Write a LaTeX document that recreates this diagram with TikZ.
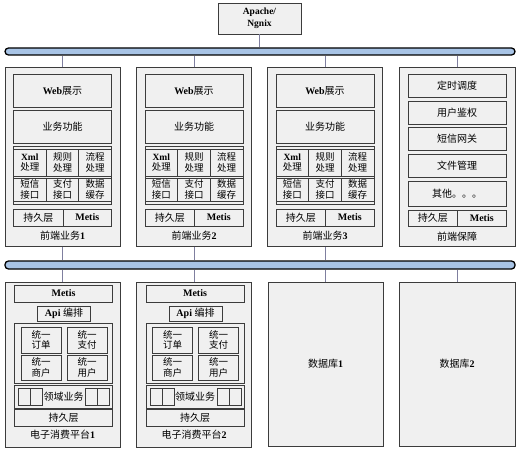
\documentclass[tikz,border=0pt]{standalone}
\usepackage{fontspec}
\setmainfont{Liberation Serif}
\newfontfamily\cjk{Noto Sans CJK SC}
\definecolor{boxline}{HTML}{3C3C3C}
\definecolor{boxfill}{HTML}{F0F0F0}
\definecolor{connc}{HTML}{7F7F9F}
\definecolor{busfill}{HTML}{A8C4E6}
\newcommand\zh[1]{{\cjk #1}}
\newcommand\lb[1]{{\bfseries #1}}
% \R[style]{x1}{y1}{x2}{y2}{name}{text}
\newcommand\R[7][box]{\node[#1,minimum width={(#4)-(#2)},minimum height={(#5)-(#3)}]
  (#6) at ({((#2)+(#4))/2},{((#3)+(#5))/2}) {#7};}
\begin{document}
\begin{tikzpicture}[x=1pt,y=-1pt,
  box/.style={draw=boxline,fill=boxfill,line width=0.8pt,inner sep=0pt,align=center,
    font=\fontsize{10}{11.5}\selectfont},
  cell/.style={box,font=\fontsize{9.5}{10.5}\selectfont},
  outerbox/.style={box,line width=1pt},
  lbl/.style={inner sep=0pt,font=\fontsize{10}{11.5}\selectfont},
  conn/.style={draw=connc,line width=0.9pt},
  bus/.style={draw=black,fill=busfill,line width=1.3pt,rounded corners=3.5pt,inner sep=0pt}]
\fill[white] (0,0) rectangle (518,449);
\useasboundingbox (0,0) rectangle (518,449);

% top server
\R[box,font=\fontsize{9.5}{12.5}\selectfont]{218}{3}{301}{34}{apache}{\lb{Apache/}\\\lb{Ngnix}}

% buses
\R[bus]{5}{48}{515}{55}{bus1}{}
\R[bus]{5}{261}{515}{269}{bus2}{}

% front-end business columns
\foreach \i/\c in {1/62.5,2/194,3/325}{
  \R[outerbox]{\c-57.5}{68}{\c+57.5}{246}{fe\i}{}
  \R{\c-49}{74}{\c+49}{107}{web\i}{\lb{Web}\zh{展示}}
  \R{\c-49}{110}{\c+49}{143}{biz\i}{\zh{业务功能}}
  \R{\c-49}{146}{\c+49}{204}{grid\i}{}
  \R[cell]{\c-49}{149}{\c-16.33}{176}{xml\i}{\lb{Xml}\\\zh{处理}}
  \R[cell]{\c-16.33}{149}{\c+16.33}{176}{rule\i}{\zh{规则}\\\zh{处理}}
  \R[cell]{\c+16.33}{149}{\c+49}{176}{flow\i}{\zh{流程}\\\zh{处理}}
  \R[cell]{\c-49}{178}{\c-16.33}{201}{sms\i}{\zh{短信}\\\zh{接口}}
  \R[cell]{\c-16.33}{178}{\c+16.33}{201}{pay\i}{\zh{支付}\\\zh{接口}}
  \R[cell]{\c+16.33}{178}{\c+49}{201}{cache\i}{\zh{数据}\\\zh{缓存}}
  \R{\c-49}{209}{\c+0.5}{226}{per\i}{\zh{持久层}}
  \R{\c+0.5}{209}{\c+49}{226}{met\i}{\lb{Metis}}
  \node[lbl] (fl\i) at (\c,236) {\zh{前端业务}\lb{\i}};
}

% front-end support column
\R[outerbox]{399}{68}{515}{246}{fe4}{}
\R{408}{74}{506}{97}{sch}{\zh{定时调度}}
\R{408}{101}{506}{124}{auth}{\zh{用户鉴权}}
\R{408}{127}{506}{150}{gw}{\zh{短信网关}}
\R{408}{154}{506}{177}{file}{\zh{文件管理}}
\R{408}{181}{506}{206}{other}{\zh{其他。。。}}
\R{408}{210}{457.5}{226}{per4}{\zh{持久层}}
\R{457.5}{210}{506}{226}{met4}{\lb{Metis}}
\node[lbl] (fl4) at (457,237) {\zh{前端保障}};

% e-consumption platforms
\foreach \i/\c in {1/62.5,2/194}{
  \R[outerbox]{\c-57.5}{282}{\c+57.5}{447}{ec\i}{}
  \R{\c-48}{285}{\c+50}{302}{emet\i}{\lb{Metis}}
  \R{\c-25}{306}{\c+28}{321}{api\i}{\lb{Api} \zh{编排}}
  \R{\c-48}{323}{\c+50}{383}{uni\i}{}
  \R[cell]{\c-41.5}{327}{\c-1.5}{353}{ua\i}{\zh{统一}\\\zh{订单}}
  \R[cell]{\c+4.5}{327}{\c+44.5}{353}{ub\i}{\zh{统一}\\\zh{支付}}
  \R[cell]{\c-41.5}{355}{\c-1.5}{380}{uc\i}{\zh{统一}\\\zh{商户}}
  \R[cell]{\c+4.5}{355}{\c+44.5}{380}{ud\i}{\zh{统一}\\\zh{用户}}
  \R{\c-48}{385}{\c+50}{408}{dom\i}{\zh{领域业务}}
  \R{\c-44}{388}{\c-32}{405}{dl\i}{}
  \R{\c-32}{388}{\c-20}{405}{dm\i}{}
  \R{\c+23}{388}{\c+35}{405}{dn\i}{}
  \R{\c+35}{388}{\c+47}{405}{dr\i}{}
  \R{\c-48}{409}{\c+50}{426}{eper\i}{\zh{持久层}}
  \node[lbl] (el\i) at (\c,435) {\zh{电子消费平台}\lb{\i}};
}

% databases
\R[outerbox]{268}{282}{383}{446}{db1}{\zh{数据库}\lb{1}}
\R[outerbox]{399}{282}{515}{446}{db2}{\zh{数据库}\lb{2}}

% connectors
\draw[conn] (apache.south) -- (apache.south |- bus1.north);
\foreach \n in {fe1,fe2,fe3,fe4}{
  \draw[conn] (\n.north) -- (\n.north |- bus1.south);
}
\foreach \n in {fe1,fe2,fe3}{
  \draw[conn] (\n.south) -- (\n.south |- bus2.north);
}
\foreach \n in {ec1,ec2,db1,db2}{
  \draw[conn] (\n.north) -- (\n.north |- bus2.south);
}
\end{tikzpicture}
\end{document}
